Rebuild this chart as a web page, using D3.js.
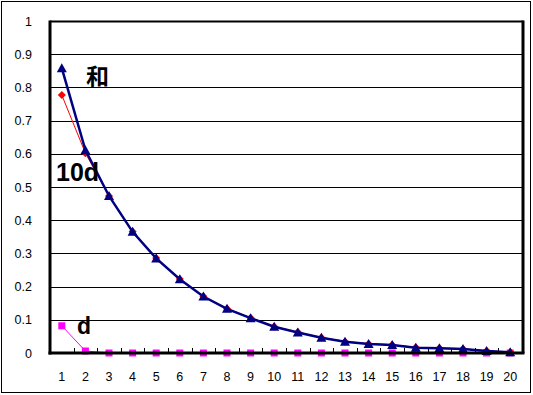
<!DOCTYPE html>
<html>
<head>
<meta charset="utf-8">
<script src="https://cdn.jsdelivr.net/npm/d3@7"></script>
<style>
  body { margin: 0; background: #fff; }
  svg text { font-family: "Liberation Sans", Arial, sans-serif; }
</style>
</head>
<body>
<div class="chart"></div>
<script>
const categories = d3.range(1, 21).map(String);
const yTicks = [0, 0.1, 0.2, 0.3, 0.4, 0.5, 0.6, 0.7, 0.8, 0.9, 1];

// 和 (navy, triangles)
const sumValues = [0.858, 0.611, 0.473, 0.365, 0.285, 0.222, 0.170, 0.133, 0.105, 0.079,
                   0.062, 0.046, 0.034, 0.027, 0.024, 0.016, 0.014, 0.012, 0.006, 0.002];
// 10d (red, diamonds)
const tenDValues = [0.777, 0.602, 0.473, 0.366, 0.286, 0.223, 0.171, 0.134, 0.106, 0.080,
                    0.063, 0.047, 0.035, 0.028, 0.025, 0.017, 0.015, 0.013, 0.007, 0.003];
// d (magenta, squares)
const dValues = [0.082, 0.006, 0, 0, 0, 0, 0, 0, 0, 0,
                 0, 0, 0, 0, 0, 0, 0, 0, 0, 0];

const W = 533, H = 395;
const x0 = 50, x1 = 522, yTop = 21, yBot = 353;

const svg = d3.select('.chart').append('svg')
  .attr('width', W).attr('height', H);

// outer frame
svg.append('rect')
  .attr('x', 1.5).attr('y', 1.5)
  .attr('width', 529).attr('height', 391)
  .attr('fill', '#fff').attr('stroke', '#000').attr('stroke-width', 1);

const x = d3.scaleBand().domain(categories).range([x0, x1]);
const y = d3.scaleLinear().domain([0, 1]).range([yBot, yTop]);

// gridlines
svg.append('g')
  .selectAll('line')
  .data(yTicks.slice(1, -1))
  .join('line')
    .attr('x1', x0).attr('x2', x1)
    .attr('y1', d => Math.round(y(d)) + 0.5).attr('y2', d => Math.round(y(d)) + 0.5)
    .attr('stroke', '#000').attr('stroke-width', 1);

// plot frame: top and right
svg.append('line').attr('x1', x0).attr('x2', x1 + 1.5)
  .attr('y1', yTop + 0.5).attr('y2', yTop + 0.5)
  .attr('stroke', '#000').attr('stroke-width', 2);
svg.append('line').attr('x1', x1 + 1).attr('x2', x1 + 1)
  .attr('y1', yTop - 0.5).attr('y2', yBot)
  .attr('stroke', '#000').attr('stroke-width', 3);

// y axis labels
svg.append('g')
  .selectAll('text')
  .data(yTicks)
  .join('text')
    .attr('x', 32).attr('y', d => y(d) + 4.5)
    .attr('text-anchor', 'end')
    .attr('font-size', 12.5)
    .text(d => d3.format('')(d));

// x axis tick marks (inward, at category boundaries)
svg.append('g')
  .selectAll('line')
  .data(categories.slice(1))
  .join('line')
    .attr('x1', d => Math.round(x(d)) + 0.5).attr('x2', d => Math.round(x(d)) + 0.5)
    .attr('y1', yBot).attr('y2', yBot - 5)
    .attr('stroke', '#000').attr('stroke-width', 1);

// x axis labels
svg.append('g')
  .selectAll('text')
  .data(categories)
  .join('text')
    .attr('x', d => x(d) + x.bandwidth() / 2).attr('y', 381)
    .attr('text-anchor', 'middle')
    .attr('font-size', 12.5)
    .text(d => d);

const cx = (d, i) => x(categories[i]) + x.bandwidth() / 2;
const line = d3.line().x((d, i) => cx(d, i)).y(d => y(d));

// d series
svg.append('path').datum(dValues)
  .attr('d', line).attr('fill', 'none')
  .attr('stroke', '#ff00ff').attr('stroke-width', 1);
svg.append('g').selectAll('rect').data(dValues).join('rect')
  .attr('x', (d, i) => cx(d, i) - 3.5).attr('y', d => y(d) - 3.5)
  .attr('width', 7).attr('height', 7).attr('fill', '#ff00ff');

// 10d series
svg.append('path').datum(tenDValues)
  .attr('d', line).attr('fill', 'none')
  .attr('stroke', '#ff0000').attr('stroke-width', 1);
svg.append('g').selectAll('path').data(tenDValues).join('path')
  .attr('transform', (d, i) => `translate(${cx(d, i)},${y(d)})`)
  .attr('d', 'M0,-4L4,0L0,4L-4,0Z').attr('fill', '#ff0000');

// 和 series
svg.append('path').datum(sumValues)
  .attr('d', line).attr('fill', 'none')
  .attr('stroke', '#000080').attr('stroke-width', 2.5);
svg.append('g').selectAll('path').data(sumValues).join('path')
  .attr('transform', (d, i) => `translate(${cx(d, i)},${y(d)})`)
  .attr('d', 'M0,-5L5,4L-5,4Z').attr('fill', '#000080');

// axes (thick)
svg.append('line').attr('x1', x0).attr('x2', x0)
  .attr('y1', yTop - 0.5).attr('y2', yBot + 1.5)
  .attr('stroke', '#000').attr('stroke-width', 3);
svg.append('line').attr('x1', x0 - 1.5).attr('x2', x1 + 2.5)
  .attr('y1', yBot).attr('y2', yBot)
  .attr('stroke', '#000').attr('stroke-width', 3);

// series labels
const labels = [
  { text: '和', x: 86, y: 85, size: 23 },
  { text: '10d', x: 56, y: 181, size: 25 },
  { text: 'd', x: 77, y: 334, size: 23 }
];
svg.append('g').selectAll('text').data(labels).join('text')
  .attr('x', d => d.x).attr('y', d => d.y)
  .attr('font-size', d => d.size).attr('font-weight', 'bold')
  .style('font-family', d => d.text === '和' ? '"Noto Sans CJK JP", sans-serif' : null)
  .text(d => d.text);
</script>
</body>
</html>
